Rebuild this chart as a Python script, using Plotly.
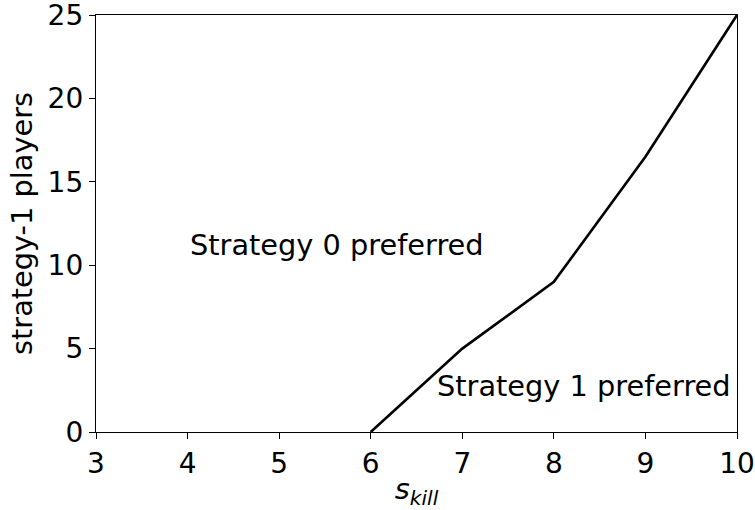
import plotly.graph_objects as go

# Boundary between the two preferred-strategy regions
s_kill = [6, 7, 8, 9, 10]
players = [0, 5, 9, 16.5, 25]

x_ticks = [3, 4, 5, 6, 7, 8, 9, 10]
y_ticks = [0, 5, 10, 15, 20, 25]

region_labels = ["Strategy 0 preferred", "Strategy 1 preferred"]
label_x = [4.0, 6.7]
label_y = [11.2, 2.75]

FONT = "DejaVu Sans"
TICK_FS = 28
TEXT_FS = 28.8

fig = go.Figure()
fig.add_trace(go.Scatter(
    x=s_kill, y=players, mode="lines",
    line=dict(color="black", width=2.6),
    showlegend=False, cliponaxis=False,
))

for txt, lx, ly in zip(region_labels, label_x, label_y):
    fig.add_annotation(
        x=lx, y=ly, text=txt, showarrow=False,
        xanchor="left", yanchor="middle",
        font=dict(family=FONT, size=TEXT_FS, color="black"),
    )

axis_common = dict(
    showline=True, linecolor="black", linewidth=1.3, mirror=True,
    ticks="outside", ticklen=6, tickwidth=1.3, tickcolor="black",
    showgrid=False, zeroline=False, automargin=False,
    ticklabeloverflow="allow",
    tickfont=dict(family=FONT, size=TICK_FS, color="black"),
)

fig.update_xaxes(
    range=[3, 10], tickvals=x_ticks, ticktext=[str(v) for v in x_ticks],
    title=dict(text="<i>s<sub>kill</sub></i>", font=dict(family=FONT, size=TEXT_FS, color="black"), standoff=9),
    **axis_common,
)
fig.update_yaxes(
    range=[0, 25], tickvals=y_ticks, ticktext=[str(v) for v in y_ticks],
    title=dict(text="strategy-1 players", font=dict(family=FONT, size=TEXT_FS, color="black"), standoff=6),
    **axis_common,
)

fig.update_layout(
    width=755, height=510,
    margin=dict(l=96, r=18, t=15, b=78),
    paper_bgcolor="white", plot_bgcolor="white",
)

fig.write_html("out.html")
